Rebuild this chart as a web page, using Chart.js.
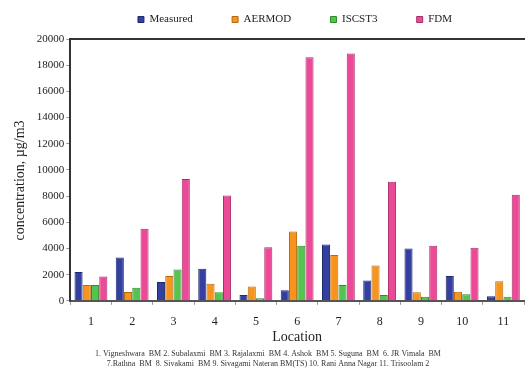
<!DOCTYPE html>
<html lang="en">
<head>
<meta charset="UTF-8">
<script src="https://cdn.jsdelivr.net/npm/chart.js"></script>
<style>
    body { margin: 0; padding: 0; background: #fff; }
    #wrap { width: 528px; height: 373px; }
</style>
</head>
<body>
<div id="wrap"><canvas id="chart" width="528" height="373"></canvas></div>
<script>
    // data
    const locations = ['1', '2', '3', '4', '5', '6', '7', '8', '9', '10', '11'];
    const measured = [2200, 3300, 1430, 2450, 450, 800, 4300, 1550, 4000, 1900, 350];
    const aermod   = [1200, 670, 1900, 1300, 1100, 5300, 3500, 2700, 650, 700, 1500];
    const iscst3   = [1200, 1000, 2400, 650, 200, 4200, 1200, 450, 300, 500, 300];
    const fdm      = [1850, 5500, 9300, 8050, 4100, 18600, 18900, 9100, 4200, 4050, 8100];
    const yTicks = [0, 2000, 4000, 6000, 8000, 10000, 12000, 14000, 16000, 18000, 20000];
    const footnote = [
        '1. Vigneshwara  BM 2. Subalaxmi  BM 3. Rajalaxmi  BM 4. Ashok  BM 5. Suguna  BM  6. JR Vimala  BM',
        '7.Rathna  BM  8. Sivakami  BM 9. Sivagami Nateran BM(TS) 10. Rani Anna Nagar 11. Trisoolam 2'
    ];

    const serif = '"Liberation Serif", "Times New Roman", serif';
    const gap = '           ';

    // legend sits a bit right of centre in the original
    const legendShift = {
        id: 'legendShift',
        afterUpdate(chart) {
            chart.legend.left += 27;
            chart.legend.right += 27;
        }
    };

    new Chart(document.getElementById('chart'), {
        type: 'bar',
        data: {
            labels: locations,
            datasets: [
                { label: 'Measured' + gap, data: measured, backgroundColor: '#3340a0', borderColor: '#1f2870' },
                { label: 'AERMOD' + gap, data: aermod, backgroundColor: '#f7941d', borderColor: '#b86a10' },
                { label: 'ISCST3' + gap, data: iscst3, backgroundColor: '#55c34f', borderColor: '#2f8a2c' },
                { label: 'FDM', data: fdm, backgroundColor: '#ec4a97', borderColor: '#a82f68' }
            ].map(d => Object.assign(d, { borderWidth: 1, categoryPercentage: 0.8, barPercentage: 0.98 }))
        },
        plugins: [legendShift],
        options: {
            responsive: false,
            animation: false,
            layout: { padding: { left: 12, right: 4, top: 5, bottom: 2 } },
            plugins: {
                legend: {
                    position: 'top',
                    labels: {
                        font: { family: serif, size: 11 },
                        color: '#222',
                        boxWidth: 6,
                        boxHeight: 6,
                        padding: 9
                    }
                },
                title: {
                    display: true,
                    position: 'bottom',
                    text: footnote,
                    font: { family: serif, size: 8, weight: 'normal', lineHeight: 1.25 },
                    color: '#333',
                    padding: { top: 0, bottom: 2 }
                },
                tooltip: { enabled: false }
            },
            scales: {
                x: {
                    grid: { display: true, drawOnChartArea: false, tickLength: 4, color: '#999' },
                    border: { color: '#555', width: 2 },
                    ticks: { font: { family: serif, size: 12 }, color: '#222', padding: 10 },
                    title: {
                        display: true,
                        text: 'Location',
                        font: { family: serif, size: 14 },
                        color: '#222',
                        padding: { top: -10, bottom: 3 }
                    }
                },
                x2: {
                    position: 'top',
                    grid: { display: false },
                    border: { color: '#333', width: 2 },
                    ticks: { display: false },
                    afterFit: s => { s.height = 4; }
                },
                y: {
                    min: 0,
                    max: 20000,
                    afterBuildTicks: axis => { axis.ticks = yTicks.map(v => ({ value: v })); },
                    grid: { display: true, drawOnChartArea: false, tickLength: 4, color: '#999' },
                    border: { color: '#333', width: 2 },
                    ticks: { font: { family: serif, size: 11 }, color: '#222', padding: 2, callback: v => String(v) },
                    title: {
                        display: true,
                        text: 'concentration, µg/m3      ',
                        font: { family: serif, size: 14 },
                        color: '#222',
                        padding: { top: 0, bottom: 6 }
                    }
                }
            }
        }
    });
</script>
</body>
</html>
